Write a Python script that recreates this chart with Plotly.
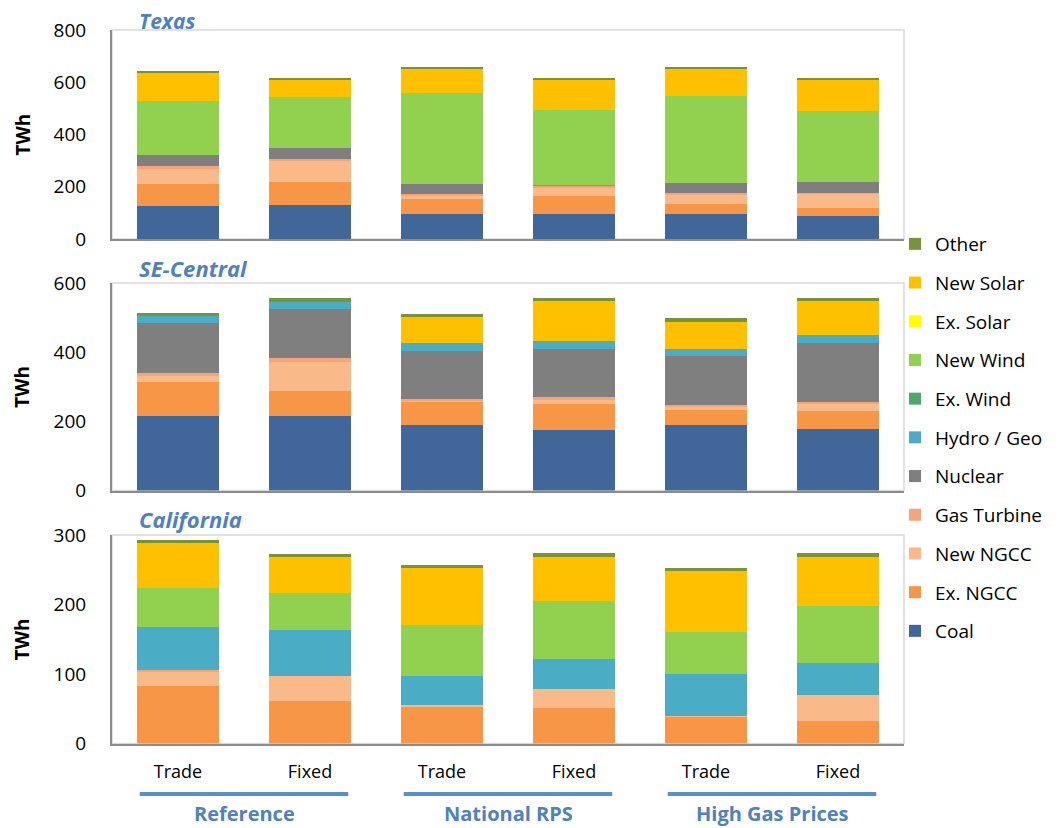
import plotly.graph_objects as go
from plotly.subplots import make_subplots

# Categories and data (TWh)
scenarios = ['Trade', 'Fixed', 'Trade', 'Fixed', 'Trade', 'Fixed']
groups = ['Reference', 'National RPS', 'High Gas Prices']
x_pos = [0, 1, 2, 3, 4, 5]

techs = ['Coal', 'Ex. NGCC', 'New NGCC', 'Gas Turbine', 'Nuclear', 'Hydro / Geo',
         'Ex. Wind', 'New Wind', 'Ex. Solar', 'New Solar', 'Other']
colors = ['#41679A', '#F79646', '#F9B988', '#F4A57B', '#7F7F7F', '#4BACC6',
          '#4EA86A', '#92D050', '#FFFF00', '#FFC000', '#77933C']

texas = {
    'Coal':        [125, 130, 94, 94, 94, 87],
    'Ex. NGCC':    [84, 87, 60, 69, 41, 32],
    'New NGCC':    [60, 82, 9, 35, 36, 54],
    'Gas Turbine': [12, 6, 8, 5, 4, 4],
    'Nuclear':     [42, 43, 38, 0, 38, 40],
    'Hydro / Geo': [0, 0, 0, 2, 0, 0],
    'Ex. Wind':    [0, 0, 0, 0, 0, 0],
    'New Wind':    [206, 197, 351, 290, 336, 274],
    'Ex. Solar':   [0, 0, 0, 0, 0, 0],
    'New Solar':   [109, 62, 93, 115, 102, 120],
    'Other':       [6, 9, 7, 6, 6, 5],
}
se_central = {
    'Coal':        [214, 214, 188, 175, 188, 178],
    'Ex. NGCC':    [99, 75, 69, 75, 46, 52],
    'New NGCC':    [19, 84, 3, 12, 9, 21],
    'Gas Turbine': [8, 10, 4, 8, 4, 6],
    'Nuclear':     [144, 142, 138, 140, 141, 170],
    'Hydro / Geo': [20, 21, 25, 23, 22, 24],
    'Ex. Wind':    [0, 0, 0, 0, 0, 0],
    'New Wind':    [0, 0, 0, 0, 0, 0],
    'Ex. Solar':   [0, 0, 0, 0, 0, 0],
    'New Solar':   [0, 0, 74, 116, 78, 96],
    'Other':       [10, 12, 10, 9, 11, 11],
}
california = {
    'Coal':        [0, 0, 0, 0, 0, 0],
    'Ex. NGCC':    [83, 61, 53, 51, 39, 33],
    'New NGCC':    [20, 36, 3, 28, 1, 37],
    'Gas Turbine': [3, 0, 0, 0, 0, 0],
    'Nuclear':     [0, 0, 0, 0, 0, 0],
    'Hydro / Geo': [61, 66, 41, 42, 60, 46],
    'Ex. Wind':    [0, 0, 0, 0, 0, 0],
    'New Wind':    [57, 54, 73, 84, 61, 82],
    'Ex. Solar':   [0, 0, 0, 0, 0, 0],
    'New Solar':   [65, 52, 82, 64, 87, 71],
    'Other':       [4, 4, 5, 5, 5, 5],
}

regions = ['Texas', 'SE-Central', 'California']
region_data = [texas, se_central, california]
y_max = [800, 600, 300]
y_dtick = [200, 200, 100]

FONT = 'Open Sans'
BLUE = '#4F81BD'
# la page a une marge de 8 px : figure un peu plus petite que la fenêtre
OFF = 8
W, H = 1063 - OFF, 828 - OFF


def fx(px):
    return (px - OFF) / W


def fy(py):
    return 1 - (py - OFF) / H


fig = make_subplots(rows=3, cols=1, shared_xaxes=False)

for r, data in enumerate(region_data, start=1):
    for k, (tech, col) in enumerate(zip(techs, colors)):
        fig.add_trace(go.Bar(
            x=x_pos, y=data[tech], name=tech, marker_color=col,
            marker_line_width=0, width=0.62,
            legendgroup=tech, legendrank=100 - k, showlegend=(r == 1)
        ), row=r, col=1)

# Domaines (pixels de la référence)
x0, x1 = 112, 904
panels_px = [(30, 239), (283, 490.5), (535, 743.5)]
# position / taille des titres de panneaux
title_y = [21, 268, 519]
title_size = [21, 22, 22]

layout = dict(
    barmode='stack', width=W, height=H,
    margin=dict(l=0, r=0, t=0, b=0),
    plot_bgcolor='white', paper_bgcolor='white',
    font=dict(family=FONT, size=19, color='black'),
    legend=dict(x=fx(895), y=fy(225), xanchor='left', yanchor='top',
                traceorder='grouped', tracegroupgap=11, bgcolor='rgba(0,0,0,0)',
                font=dict(size=19, family=FONT), itemwidth=30),
)
shapes = []
annotations = []
for i, (top, bot) in enumerate(panels_px):
    ax = '' if i == 0 else str(i + 1)
    layout['xaxis' + ax] = dict(
        domain=[fx(x0), fx(x1)], range=[-0.5, 5.5], automargin=False,
        tickvals=x_pos, ticktext=scenarios, showticklabels=(i == 2),
        ticks='', showline=True, linecolor='#8C8C8C', linewidth=2,
        ticklabelstandoff=11, tickfont=dict(size=18), showgrid=False,
        zeroline=False, anchor='y' + ax,
    )
    layout['yaxis' + ax] = dict(
        domain=[fy(bot), fy(top)], range=[0, y_max[i]], automargin=False,
        dtick=y_dtick[i], showgrid=False, zeroline=False,
        showline=True, linecolor='#8C8C8C', linewidth=2, ticks='',
        ticklabelstandoff=20, tickfont=dict(size=19), anchor='x' + ax,
    )
    # cadre gris clair
    shapes.append(dict(type='rect', xref='paper', yref='paper',
                       x0=fx(x0), x1=fx(x1), y0=fy(bot), y1=fy(top),
                       line=dict(color='#D9D9D9', width=1.5), layer='below'))
    annotations.append(dict(text='<b><i>' + regions[i] + '</i></b>', xref='paper', yref='paper',
                            x=fx(137), y=fy(title_y[i]), xanchor='left', yanchor='middle',
                            showarrow=False, font=dict(size=title_size[i], color=BLUE, family=FONT)))
    annotations.append(dict(text='<b>TWh</b>', xref='paper', yref='paper', textangle=-90,
                            x=fx(22), y=fy((top + bot) / 2), xanchor='center', yanchor='middle',
                            showarrow=False, font=dict(size=19, color='black', family=FONT)))

# Groupes de scénarios sous l'axe
for g, name in enumerate(groups):
    c = 2 * g + 0.5
    shapes.append(dict(type='line', xref='x3', yref='paper', x0=c - 0.79, x1=c + 0.79,
                       y0=fy(794), y1=fy(794), line=dict(color='#5B8FC9', width=4)))
    annotations.append(dict(text='<b>' + name + '</b>', xref='x3', yref='paper', x=c,
                            y=fy(813), xanchor='center', yanchor='middle', showarrow=False,
                            font=dict(size=20, color='#4F81BD', family=FONT)))

layout['shapes'] = shapes
layout['annotations'] = annotations
fig.update_layout(**layout)

fig.write_html("out.html")
